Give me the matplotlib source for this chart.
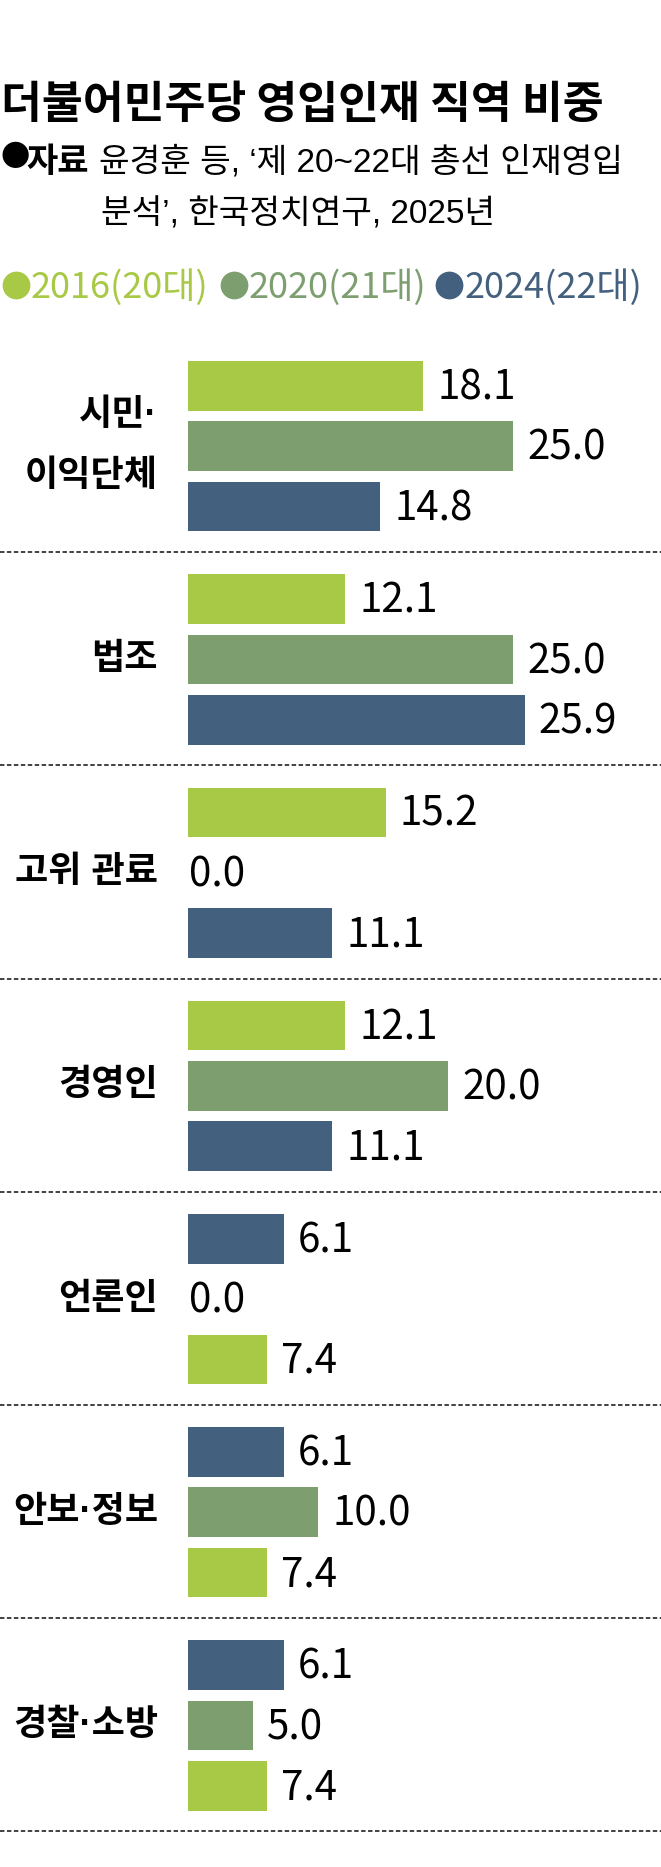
import numpy as np
import matplotlib
matplotlib.use('Agg')
import matplotlib.pyplot as plt
import matplotlib.transforms as mtransforms
from matplotlib.lines import Line2D

plt.rcParams['lines.scale_dashes'] = False

# 데이터 (단위: %)
categories = ['시민·\n이익단체', '법조', '고위 관료', '경영인', '언론인', '안보·정보', '경찰·소방']
years = ['2016(20대)', '2020(21대)', '2024(22대)']
v2016 = [18.1, 12.1, 15.2, 12.1, 7.4, 7.4, 7.4]
v2020 = [25.0, 25.0, 0.0, 20.0, 0.0, 10.0, 5.0]
v2024 = [14.8, 25.9, 11.1, 11.1, 6.1, 6.1, 6.1]
colors = ['#a8c945', '#7d9f70', '#43617f']
# 원본 그림에서 아래 세 항목은 막대 길이는 그대로인데 색과 숫자가 거꾸로 붙어 있음
flipped = [False, False, False, False, True, True, True]

title = '더불어민주당 영입인재 직역 비중'
source_head = '자료'
source1 = '윤경훈 등, ‘제 20~22대 총선 인재영입'
source2 = '분석’, 한국정치연구, 2025년'

KR = ['Noto Sans CJK KR', 'DejaVu Sans']
LAB = ['Liberation Sans', 'Noto Sans CJK KR', 'DejaVu Sans']
NUM = ['Liberation Sans Narrow', 'Noto Sans CJK KR', 'DejaVu Sans']
SRC = ['Liberation Sans', 'Noto Sans CJK KR', 'DejaVu Sans']

W, H = 661, 1867
fig = plt.figure(figsize=(W / 100, H / 100), dpi=100)
fig.patch.set_facecolor('white')


def fx(px):  # 픽셀 -> figure 좌표
    return px / W


def fy(py):
    return 1 - py / H


# 제목, 출처
fig.text(fx(1), fy(118), title, family=KR, fontweight='bold', fontsize=32,
         ha='left', va='baseline', color='black')
fig.text(fx(0), fy(158), '●', family=KR, fontsize=21, ha='left', va='center')
fig.text(fx(26), fy(172), source_head, family=KR, fontweight='bold', fontsize=24.5,
         ha='left', va='baseline')
fig.text(fx(99), fy(172), source1, family=SRC, fontsize=24, ha='left', va='baseline')
fig.text(fx(101), fy(223), source2, family=SRC, fontsize=24, ha='left', va='baseline')

# 범례
dot_x = [16, 234, 449]
txt_x = [31, 249, 465]
for k in range(3):
    fig.add_artist(Line2D([fx(dot_x[k])], [fy(285.5)], marker='o', markersize=20,
                          color=colors[k], markeredgewidth=0, linestyle='none',
                          transform=fig.transFigure))
    fig.text(fx(txt_x[k]), fy(298), years[k], family=NUM, fontsize=26, color=colors[k],
             ha='left', va='baseline')

# 막대 영역
x0 = 188          # 0 값 위치 (px)
px_per_unit = 13.0
top = 339         # 첫 그룹 시작 (px)
group_h = 213.2
slot_h = 60.3
bar_h = 49.7
first_c = 47

ax = fig.add_axes([fx(x0), 0, 1 - fx(x0), (H - top) / H])
ax.set_xlim(0, (W - x0) / px_per_unit)
ax.set_ylim(H - top, 0)
ax.axis('off')

trans = mtransforms.blended_transform_factory(fig.transFigure, ax.transData)

for i, cat in enumerate(categories):
    g = i * group_h
    vals = [v2016[i], v2020[i], v2024[i]]
    lab_idx = [2, 1, 0] if flipped[i] else [0, 1, 2]
    for j in range(3):
        k = lab_idx[j]
        yc = g + first_c + j * slot_h
        ax.barh(yc, vals[j], height=bar_h, color=colors[k], edgecolor='none')
        off = 14 if vals[j] > 0 else 1
        ax.annotate('{:.1f}'.format(vals[k]), (vals[j], yc), xytext=(off, -2),
                    textcoords='offset pixels', ha='left', va='center',
                    family=NUM, fontsize=29, color='black')

    # 항목 이름 (두 줄이면 줄마다 따로)
    lines = cat.split('\n')
    mid = g + first_c + slot_h
    n = len(lines)
    for li, line in enumerate(lines):
        yy = mid + (li - (n - 1) / 2) * 61
        ax.text(fx(158), yy, line, transform=trans, ha='right', va='center',
                family=LAB, fontweight='bold', fontsize=26, color='black')

    # 구분 점선
    ax.plot([0, 1], [g + group_h, g + group_h], transform=trans, clip_on=False,
            color='#333333', lw=1.3, dashes=(3.2, 1.8))

fig.savefig('out.png', dpi=100, facecolor='white')
